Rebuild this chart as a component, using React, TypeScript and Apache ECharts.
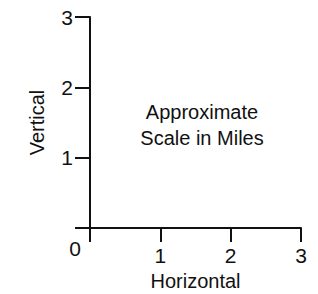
import React, { useEffect, useRef } from "react";
import * as echarts from "echarts";

const xTicks = [0, 1, 2, 3];
const yTicks = [0, 1, 2, 3];
const xName = "Horizontal";
const yName = "Vertical";
const noteLines = ["Approximate", "Scale in Miles"];
const originLabel = "0";

const FONT = "'Liberation Sans', Arial, Helvetica, sans-serif";
const INK = "#111";

export default function App() {
  const ref = useRef<HTMLDivElement>(null);
  useEffect(() => {
    if (!ref.current) return;
    const chart = echarts.init(ref.current, undefined, { renderer: "svg" });
    chart.setOption({
      animation: false,
      backgroundColor: "#fff",
      grid: { left: 90, right: 17, top: 17, bottom: 66, containLabel: false, outerBoundsMode: "none" },
      xAxis: {
        type: "value",
        min: xTicks[0],
        max: xTicks[xTicks.length - 1],
        interval: 1,
        name: xName,
        nameLocation: "middle",
        nameGap: 41,
        nameTextStyle: { fontFamily: FONT, fontSize: 20, color: INK },
        axisLine: { show: true, lineStyle: { color: INK, width: 2 } },
        axisTick: { show: true, length: 14, lineStyle: { color: INK, width: 2 } },
        axisLabel: {
          margin: 17,
          fontFamily: FONT,
          fontSize: 21,
          color: INK,
          formatter: (v: number) => (v === 0 ? "" : String(v)),
        },
        splitLine: { show: false },
      },
      yAxis: {
        type: "value",
        min: yTicks[0],
        max: yTicks[yTicks.length - 1],
        interval: 1,
        name: yName,
        nameLocation: "middle",
        nameGap: 43,
        nameTextStyle: { fontFamily: FONT, fontSize: 20, color: INK },
        axisLine: { show: true, lineStyle: { color: INK, width: 2 } },
        axisTick: { show: true, length: 15, lineStyle: { color: INK, width: 2 } },
        axisLabel: {
          margin: 17,
          fontFamily: FONT,
          fontSize: 21,
          color: INK,
          formatter: (v: number) => (v === 0 ? "" : String(v)),
        },
        splitLine: { show: false },
      },
      graphic: [
        {
          type: "text",
          x: 75,
          y: 248,
          style: {
            text: originLabel,
            fontFamily: FONT,
            fontSize: 21,
            fill: INK,
            align: "center",
            verticalAlign: "middle",
          },
        },
        {
          type: "text",
          x: 202,
          y: 125,
          style: {
            text: noteLines.join("\n"),
            fontFamily: FONT,
            fontSize: 20,
            lineHeight: 26,
            fill: INK,
            align: "center",
            verticalAlign: "middle",
          },
        },
      ],
      series: [{ type: "line", data: [] }],
    });
    return () => chart.dispose();
  }, []);
  return <div ref={ref} style={{ width: 318, height: 294, position: "absolute", left: 0, top: 0 }} />;
}
